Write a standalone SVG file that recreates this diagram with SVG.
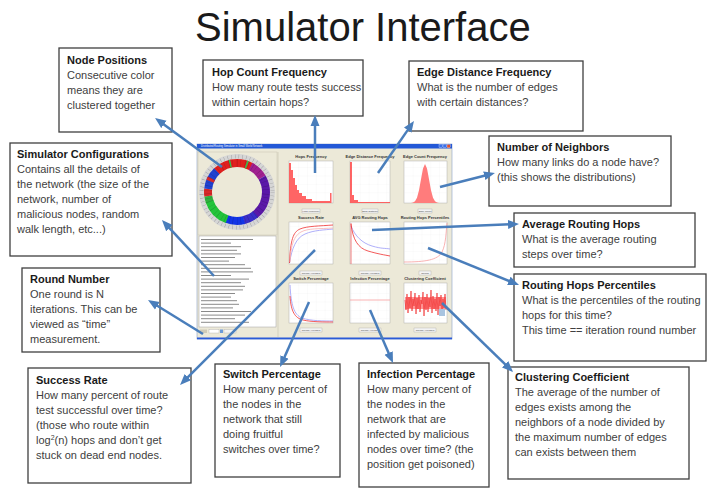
<svg xmlns="http://www.w3.org/2000/svg" width="711" height="490" viewBox="0 0 711 490">
<style>
.box{fill:#fff;stroke:#3f3f3f;stroke-width:1.3}
.t{font-family:"Liberation Sans",Arial,sans-serif;font-size:11px;fill:#404040}
.b{font-weight:bold;fill:#1a1a1a}
.arrow{fill:none;stroke:#4a7ebb;stroke-width:2.5;marker-end:url(#ah)}
.plot{fill:#fff;stroke:#a0a0a0;stroke-width:0.4}
.grid{fill:url(#gp)}
.ct{font-family:"Liberation Sans",Arial,sans-serif;font-size:4px;font-weight:bold;fill:#333;text-anchor:middle}
.lg{fill:#f4f4f4;stroke:#999;stroke-width:0.3}
.lt{font-family:"Liberation Sans",Arial,sans-serif;font-size:2.4px;fill:#444;text-anchor:middle}
.ln{fill:none;stroke-width:0.8}
.seg{fill:none;stroke-width:8}
</style>
<defs>
<marker id="ah" markerUnits="userSpaceOnUse" markerWidth="11" markerHeight="10" refX="3" refY="5" orient="auto"><path d="M0,0.5 L11,5 L0,9.5 z" fill="#4a7ebb"/></marker>
<pattern id="gp" patternUnits="userSpaceOnUse" width="8.8" height="8.4"><path d="M8.8,0 V8.4 M0,8.4 H8.8" stroke="#e4e4e4" stroke-width="0.3" fill="none"/></pattern>
</defs>
<rect width="711" height="490" fill="#fff"/>
<text x="195" y="41" font-family="'Liberation Sans',Arial,sans-serif" font-size="40" fill="#1a1a1a">Simulator Interface</text>

<g id="node-positions"><rect class="box" x="59" y="48" width="113" height="84"/>
<text class="t b" x="67" y="64">Node Positions</text>
<text class="t" x="67" y="79">Consecutive color</text>
<text class="t" x="67" y="94">means they are</text>
<text class="t" x="67" y="109">clustered together</text></g>

<g id="hop-count-frequency"><rect class="box" x="203" y="60" width="160" height="56"/>
<text class="t b" x="212" y="76">Hop Count Frequency</text>
<text class="t" x="212" y="91">How many route tests success</text>
<text class="t" x="212" y="106">within certain hops?</text></g>

<g id="edge-distance-frequency"><rect class="box" x="409" y="61" width="174" height="70"/>
<text class="t b" x="417" y="76">Edge Distance Frequency</text>
<text class="t" x="417" y="91">What is the number of edges</text>
<text class="t" x="417" y="106">with certain distances?</text></g>

<g id="number-of-neighbors"><rect class="box" x="489" y="136" width="182" height="70"/>
<text class="t b" x="497" y="151">Number of Neighbors</text>
<text class="t" x="497" y="166">How many links do a node have?</text>
<text class="t" x="497" y="181">(this shows  the distributions)</text></g>

<g id="simulator-configurations"><rect class="box" x="10" y="143" width="162" height="113"/>
<text class="t b" x="17" y="158">Simulator Configurations</text>
<text class="t" x="17" y="173">Contains all the details of</text>
<text class="t" x="17" y="188">the network  (the size of the</text>
<text class="t" x="17" y="203">network, number of</text>
<text class="t" x="17" y="218">malicious nodes, random</text>
<text class="t" x="17" y="233">walk length, etc...)</text></g>

<g id="average-routing-hops"><rect class="box" x="514" y="213" width="181" height="54"/>
<text class="t b" x="522" y="228">Average Routing Hops</text>
<text class="t" x="522" y="243">What is the average routing</text>
<text class="t" x="522" y="258">steps over time?</text></g>

<g id="routing-hops-percentiles"><rect class="box" x="514" y="274" width="192" height="87"/>
<text class="t b" x="522" y="289">Routing Hops Percentiles</text>
<text class="t" x="522" y="304">What is the percentiles of the routing</text>
<text class="t" x="522" y="319">hops for this time?</text>
<text class="t" x="522" y="334">This time == iteration round number</text></g>

<g id="round-number"><rect class="box" x="22" y="268" width="138" height="84"/>
<text class="t b" x="30" y="283">Round Number</text>
<text class="t" x="30" y="298">One round is N</text>
<text class="t" x="30" y="313">iterations. This can be</text>
<text class="t" x="30" y="328">viewed as “time”</text>
<text class="t" x="30" y="343">measurement.</text></g>

<g id="success-rate"><rect class="box" x="28" y="368" width="163" height="115"/>
<text class="t b" x="36" y="384">Success Rate</text>
<text class="t" x="36" y="399">How many percent of route</text>
<text class="t" x="36" y="414">test successful  over time?</text>
<text class="t" x="36" y="429">(those who route within</text>
<text class="t" x="36" y="444">log<tspan font-size="7" dy="-4">2</tspan><tspan dy="4">(n) hops and don’t get</tspan></text>
<text class="t" x="36" y="459">stuck on dead end nodes.</text></g>

<g id="switch-percentage"><rect class="box" x="215" y="364" width="125" height="113"/>
<text class="t b" x="223" y="378">Switch Percentage</text>
<text class="t" x="223" y="393">How many percent of</text>
<text class="t" x="223" y="408">the nodes in the</text>
<text class="t" x="223" y="423">network that still</text>
<text class="t" x="223" y="438">doing fruitful</text>
<text class="t" x="223" y="453">switches over time?</text></g>

<g id="infection-percentage"><rect class="box" x="359" y="363" width="130" height="124"/>
<text class="t b" x="367" y="378">Infection Percentage</text>
<text class="t" x="367" y="393">How many percent of</text>
<text class="t" x="367" y="408">the nodes in the</text>
<text class="t" x="367" y="423">network that are</text>
<text class="t" x="367" y="438">infected by malicious</text>
<text class="t" x="367" y="453">nodes over time? (the</text>
<text class="t" x="367" y="468">position get poisoned)</text></g>

<g id="clustering-coefficient"><rect class="box" x="508" y="367" width="181" height="112"/>
<text class="t b" x="515" y="381">Clustering Coefficient</text>
<text class="t" x="515" y="396">The average of the number of</text>
<text class="t" x="515" y="411">edges exists among the</text>
<text class="t" x="515" y="426">neighbors of a node divided by</text>
<text class="t" x="515" y="441">the maximum number of edges</text>
<text class="t" x="515" y="456">can exists between them</text></g>

<g id="simulator-screenshot">
<rect x="197" y="144" width="255" height="195" fill="#ECE9D8" stroke="#8aa0c8" stroke-width="0.6"/>
<rect x="197" y="144" width="255" height="4.5" fill="#2358d6"/>
<text x="201" y="147.4" font-family="'Liberation Sans',Arial,sans-serif" font-size="2.6" fill="#fff">Distributed Routing Simulator in Small World Network</text>
<rect x="439" y="144.6" width="3.2" height="3.2" fill="#3a70e8" stroke="#fff" stroke-width="0.3"/>
<rect x="443" y="144.6" width="3.2" height="3.2" fill="#3a70e8" stroke="#fff" stroke-width="0.3"/>
<rect x="447" y="144.6" width="3.2" height="3.2" fill="#e0502a" stroke="#fff" stroke-width="0.3"/>
<rect x="197" y="337.5" width="255" height="1.8" fill="#2a5bd7"/>
<rect x="198" y="152" width="79" height="83" fill="#ECE9D8" stroke="#c8c4b0" stroke-width="0.5"/>
<line x1="278" y1="152" x2="278" y2="337" stroke="#c8c4b0" stroke-width="0.6"/>
<circle cx="237" cy="192" r="35.5" fill="none" stroke="#d6d6d6" stroke-width="5"/>
<circle cx="237" cy="192" r="35.5" fill="none" stroke="#8a8a8a" stroke-width="4" stroke-dasharray="0.35 3.4"/>
<g transform="rotate(-90 237 192)">
<circle class="seg" cx="237" cy="192" r="29" pathLength="360" stroke="#e0201e" stroke-dasharray="75 285" stroke-dashoffset="-315"/>
<circle class="seg" cx="237" cy="192" r="29" pathLength="360" stroke="#a02090" stroke-dasharray="32 328" stroke-dashoffset="-28"/>
<circle class="seg" cx="237" cy="192" r="29" pathLength="360" stroke="#5a18a8" stroke-dasharray="82 278" stroke-dashoffset="-60"/>
<circle class="seg" cx="237" cy="192" r="29" pathLength="360" stroke="#3a2ec8" stroke-dasharray="27 333" stroke-dashoffset="-140"/>
<circle class="seg" cx="237" cy="192" r="29" pathLength="360" stroke="#1234e6" stroke-dasharray="36 324" stroke-dashoffset="-166"/>
<circle class="seg" cx="237" cy="192" r="29" pathLength="360" stroke="#22c43a" stroke-dasharray="52 308" stroke-dashoffset="-200"/>
<circle class="seg" cx="237" cy="192" r="29" pathLength="360" stroke="#30b040" stroke-dasharray="12 348" stroke-dashoffset="-250"/>
<circle class="seg" cx="237" cy="192" r="29" pathLength="360" stroke="#d82828" stroke-dasharray="14 346" stroke-dashoffset="-262"/>
<circle class="seg" cx="237" cy="192" r="29" pathLength="360" stroke="#2042d0" stroke-dasharray="40 320" stroke-dashoffset="-276"/>
<circle class="seg" cx="237" cy="192" r="29" pathLength="360" stroke="#d82828" stroke-dasharray="6 354" stroke-dashoffset="-292"/>
<circle class="seg" cx="237" cy="192" r="29" pathLength="360" stroke="#30c050" stroke-dasharray="3 357" stroke-dashoffset="-345"/>
<circle class="seg" cx="237" cy="192" r="29" pathLength="360" stroke="#30c050" stroke-dasharray="3 357" stroke-dashoffset="-18"/>
<circle cx="237" cy="192" r="29" fill="none" stroke="#000" stroke-opacity="0.18" stroke-width="8" stroke-dasharray="0.6 2.8 0.4 4.1"/>
</g>
<rect x="199" y="236" width="77" height="91" fill="#fff" stroke="#a0a0a0" stroke-width="0.5"/>
<path d="M201,239.5h52M201,243.1h30M201,246.7h40M201,250.3h36M201,253.9h40M201,257.5h34M201,261.1h28M201,264.7h44M201,268.3h50M201,271.9h52M201,275.5h30M201,279.1h48M201,282.7h40M201,286.3h44M201,289.9h42M201,293.5h34M201,297.1h30M201,300.7h36M201,304.3h38M201,307.9h32M201,311.5h50M201,315.1h44M201,318.7h34M201,322.3h48" stroke="#8a8a8a" stroke-width="1" fill="none"/>
<rect x="200" y="329.5" width="7" height="3.5" fill="#cfcbb8"/>
<rect x="209" y="329.5" width="10" height="3.5" fill="#fff" stroke="#999" stroke-width="0.3"/>
<rect x="220" y="329.5" width="3" height="3.5" fill="#6a9ad8"/>
<rect x="224" y="329.5" width="12" height="3.5" fill="#f4f4f4" stroke="#999" stroke-width="0.3"/>

<text class="ct" x="311" y="158">Hops Frequency</text>
<text class="ct" x="370" y="158">Edge Distance Frequency</text>
<text class="ct" x="425" y="158">Edge Count Frequency</text>
<text class="ct" x="311" y="219">Success Rate</text>
<text class="ct" x="370" y="219">AVG Routing Hops</text>
<text class="ct" x="425" y="219">Routing Hops Percentiles</text>
<text class="ct" x="311" y="280">Switch Percentage</text>
<text class="ct" x="370" y="280">Infection Percentage</text>
<text class="ct" x="425" y="280">Clustering Coefficient</text>

<rect class="plot" x="289" y="161" width="44" height="42"/><rect class="grid" x="289" y="161" width="44" height="42"/>
<rect class="plot" x="350" y="161" width="40" height="42"/><rect class="grid" x="350" y="161" width="40" height="42"/>
<rect class="plot" x="404" y="161" width="43" height="42"/><rect class="grid" x="404" y="161" width="43" height="42"/>
<rect class="plot" x="289" y="222" width="44" height="42"/><rect class="grid" x="289" y="222" width="44" height="42"/>
<rect class="plot" x="350" y="222" width="40" height="42"/><rect class="grid" x="350" y="222" width="40" height="42"/>
<rect class="plot" x="404" y="222" width="43" height="42"/><rect class="grid" x="404" y="222" width="43" height="42"/>
<rect class="plot" x="289" y="283" width="44" height="40"/><rect class="grid" x="289" y="283" width="44" height="40"/>
<rect class="plot" x="350" y="283" width="40" height="40"/><rect class="grid" x="350" y="283" width="40" height="40"/>
<rect class="plot" x="404" y="283" width="43" height="40"/><rect class="grid" x="404" y="283" width="43" height="40"/>

<path d="M289,203 L289,163 L291,163 L291,170 L293,170 L293,178 L295,178 L295,185 L297,185 L297,190 L299,190 L299,193 L302,193 L302,196 L306,196 L306,199 L312,199 L312,201 L330,201 L330,193 L331.5,193 L331.5,203 Z" fill="#ff4a4a" fill-opacity="0.85"/>
<path d="M350,203 L350,162 L352,162 L352,195 L354,195 L354,200 L358,200 L358,202 L390,202 L390,203 Z" fill="#ff4a4a" fill-opacity="0.85"/>
<polygon points="411,203 413,202.6 415,201.3 417,197.7 419,190.3 421,179.3 423,168.6 425,164 427,168.6 429,179.3 431,190.3 433,197.7 435,201.3 437,202.6 439,203" fill="#ff7c7c"/>

<path class="ln" d="M289.5,263 C292,248 296,238 305,234 S325,230 333,229" stroke="#9a9af8"/>
<path class="ln" d="M289.5,263 C290.5,240 293,232 300,229 S320,226 333,225" stroke="#f03030"/>
<path class="ln" d="M290,262 C291,244 294,236 301,232 S320,229 333,228" stroke="#f8b0b0" stroke-width="0.6"/>
<path class="ln" d="M351,226 C355,236 362,243 372,246 S385,248 390,249" stroke="#9a9af8"/>
<path class="ln" d="M351,224 C353,240 358,248 368,251 S385,255 390,256" stroke="#f03030" stroke-width="1.2"/>
<line x1="351" y1="223" x2="351" y2="264" stroke="#f03030" stroke-width="0.6"/>
<path class="ln" d="M404,262 C425,262 438,260 442,252 S446,232 447,223" stroke="#f8a0a0"/>

<path class="ln" d="M290,285 C291,305 294,315 302,318 S325,321 333,321" stroke="#9a9af8"/>
<path class="ln" d="M290,296 C291,312 295,318 303,320 S325,322 333,322" stroke="#f03030"/>
<line x1="350" y1="300" x2="390" y2="300" stroke="#f8a0a0" stroke-width="0.8"/>
<rect x="405" y="297" width="41" height="12" fill="#ff5050" fill-opacity="0.6"/>
<polyline fill="none" stroke="#f03030" stroke-width="0.7" points="405,300 406,310 407,294 408,313 409,297 410,308 411,291 412,311 413,299 414,306 415,293 416,314 417,298 418,309 419,295 420,312 421,300 422,304 423,292 424,316 425,297 426,310 427,294 428,312 429,298 430,307 431,290 432,313 433,296 434,309 435,299 436,311 437,293 438,315 439,297 440,306 441,295 442,312 443,299 444,308 445,294 446,310"/>
<rect x="439" y="309" width="6" height="7" fill="#a8c4e0"/>

<rect class="lg" x="302" y="209" width="18" height="4"/><text class="lt" x="311" y="211.8">Hops Frequency</text>
<rect class="lg" x="362" y="209" width="16" height="4"/><text class="lt" x="370" y="211.8">Edge Distance</text>
<rect class="lg" x="418" y="209" width="14" height="4"/><text class="lt" x="425" y="211.8">Edge Count</text>
<rect class="lg" x="300" y="271" width="22" height="4"/><text class="lt" x="311" y="273.8">Normal   Averaged</text>
<rect class="lg" x="359" y="271" width="22" height="4"/><text class="lt" x="370" y="273.8">Normal   Averaged</text>
<rect class="lg" x="419" y="271" width="12" height="4"/><text class="lt" x="425" y="273.8">Normal</text>
<rect class="lg" x="300" y="328" width="22" height="4"/><text class="lt" x="311" y="330.8">Normal   Averaged</text>
<rect class="lg" x="359" y="328" width="22" height="4"/><text class="lt" x="370" y="330.8">Normal   Averaged</text>
<rect class="lg" x="414" y="328" width="22" height="4"/><text class="lt" x="425" y="330.8">Normal   Averaged</text>
</g>

<g id="connectors">
<line class="arrow" x1="222" y1="167" x2="161.5" y2="122.7"/>
<line class="arrow" x1="214" y1="276" x2="167.4" y2="225.9"/>
<line class="arrow" x1="203" y1="334" x2="154.8" y2="304.2"/>
<line class="arrow" x1="315" y1="250" x2="185.7" y2="379.3"/>
<line class="arrow" x1="315" y1="173" x2="315" y2="123"/>
<line class="arrow" x1="378" y1="173" x2="409.4" y2="127.6"/>
<line class="arrow" x1="440" y1="187" x2="487.2" y2="175"/>
<line class="arrow" x1="372" y1="230" x2="511" y2="224.3"/>
<line class="arrow" x1="428" y1="248" x2="511.6" y2="282"/>
<line class="arrow" x1="442" y1="303" x2="507.3" y2="366.4"/>
<line class="arrow" x1="309" y1="302" x2="283.3" y2="359.7"/>
<line class="arrow" x1="370" y1="310" x2="389.8" y2="355.7"/>
</g>
</svg>
